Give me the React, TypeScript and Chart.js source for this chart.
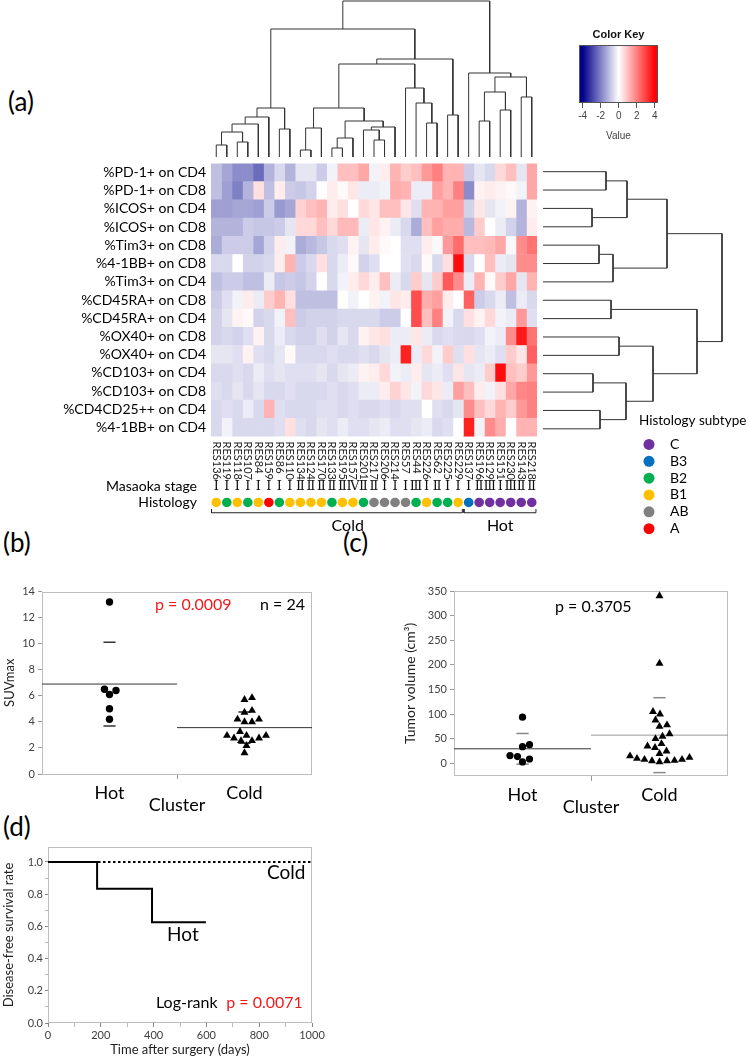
import React, { useEffect, useRef } from "react";
import { Chart, registerables } from "chart.js";

Chart.register(...registerables);

const SANS = "Lato, 'Open Sans', sans-serif";
const KEYFONT = "'Liberation Sans', Arial, sans-serif";
const ROMAN = "'DejaVu Serif', 'Noto Sans CJK JP', serif";
const AXIS_GRAY = "#404040";
const FRAME_GRAY = "#BDBDBD";
const RED = "#EE1C1C";

// ================= (a) heatmap data =================
const sampleIds = ["RES136", "RES119", "RES118", "RES107", "RES84", "RES159", "RES86", "RES110", "RES134", "RES124", "RES170", "RES133", "RES195", "RES157", "RES201", "RES217", "RES206", "RES214", "RES57", "RES44", "RES226", "RES62", "RES225", "RES229", "RES137", "RES196", "RES129", "RES151", "RES230", "RES143", "RES218"];
const markerLabels = ["%PD-1+ on CD4", "%PD-1+ on CD8", "%ICOS+ on CD4", "%ICOS+ on CD8", "%Tim3+ on CD8", "%4-1BB+ on CD8", "%Tim3+ on CD4", "%CD45RA+ on CD8", "%CD45RA+ on CD4", "%OX40+ on CD8", "%OX40+ on CD4", "%CD103+ on CD4", "%CD103+ on CD8", "%CD4CD25++ on CD4", "%4-1BB+ on CD4"];

const pd1CD4 = [-1.0, -1.4, -1.8, -1.8, -2.3, -1.2, -0.6, -1.2, -0.4, -0.4, -0.8, -0.2, 1.0, 1.0, 1.4, -0.2, 0.3, 1.2, 0.8, 1.0, 1.6, 2.0, 1.2, 1.2, -0.8, -0.4, -0.6, 0.6, 1.0, -0.4, 1.4];
const pd1CD8 = [-1.0, -1.5, -2.0, -1.2, 0.5, -1.0, 0.3, -0.8, -0.9, -0.7, 0.0, 0.3, 0.1, 0.4, -0.3, -0.3, -0.2, 1.3, 1.2, -0.3, -0.3, 1.5, 1.2, 2.0, -1.8, 0.2, 0.3, 0.2, 0.1, -0.2, 1.4];
const icosCD4 = [-1.5, -1.5, -1.4, -1.4, -1.5, -0.8, -1.6, -1.4, 0.7, 1.0, 1.2, 0.3, 0.5, 0.0, 0.6, 0.4, 1.0, 1.0, 0.4, -0.5, 1.2, 1.2, 1.5, 1.5, -0.7, 0.4, -0.4, -0.2, 0.2, -1.2, 0.2];
const icosCD8 = [-1.2, -1.2, -1.2, -0.8, -0.9, -0.9, -0.8, -0.4, 0.6, 0.6, 1.0, 0.6, 1.1, 1.1, -0.3, 0.4, 0.2, -0.3, -0.6, -1.3, 1.0, 1.5, 1.3, 1.3, -1.1, 0.8, 0.0, -0.3, -0.7, -1.2, 0.3];
const tim3CD8 = [-1.3, -0.8, -0.8, -0.8, -1.4, -0.7, 0.3, -0.2, -1.3, -1.1, -0.9, -0.6, -0.5, 0.2, -0.4, 0.3, 0.1, 0.0, -0.5, -0.5, 0.3, -0.1, 1.6, 2.3, 1.0, 1.0, 1.1, 1.4, -0.1, 1.8, 2.2];
const bb41CD8 = [-0.6, -0.6, 0.0, -0.7, -0.7, -0.6, 0.3, 1.2, -0.8, -0.6, 0.5, -0.6, -0.3, 0.1, -0.7, -0.5, 0.0, 0.0, -0.5, -0.6, 0.1, -0.6, 0.5, 3.8, -0.6, 0.0, 1.0, -0.3, -0.4, 1.8, 1.8];
const tim3CD4 = [-1.0, -0.8, -0.8, -1.0, -1.0, -0.3, -0.9, -0.8, -0.9, -0.7, 0.0, -0.6, -0.2, 0.3, 0.6, 0.3, 1.0, -0.3, -0.6, 0.8, -0.4, 0.8, 2.6, 1.8, -0.3, 1.2, 0.1, 0.8, 1.4, -0.4, 1.2];
const cd45raCD8 = [-0.8, -0.5, -0.2, 0.3, -0.3, 0.8, 1.2, 0.5, -1.0, -1.0, -1.0, -1.0, 0.0, -0.2, 0.0, 0.2, -0.2, 0.4, 0.3, 2.8, 1.3, 1.5, 0.3, 0.0, 2.5, -0.8, -0.6, -0.3, -1.0, -0.3, -0.6];
const cd45raCD4 = [-0.7, -0.4, 0.2, 0.1, -0.7, -0.6, -0.2, 1.0, -0.8, -0.7, -0.7, -0.7, -0.6, -0.6, -0.6, -0.6, -0.8, -0.8, 0.0, 2.8, 1.0, 2.0, -0.2, -0.6, 0.5, 0.2, 0.6, -0.2, -0.3, 1.6, -0.5];
const ox40CD8 = [-0.7, -0.6, -0.7, -0.5, 0.2, -0.6, -0.3, -0.6, -0.7, -0.7, -0.5, -0.7, -0.4, -0.6, 0.2, 0.4, 0.5, -0.3, -0.3, 0.4, -0.3, -0.6, -0.5, -0.6, -0.6, -0.5, -0.2, -0.3, 1.8, 3.6, 2.2];
const ox40CD4 = [-0.4, -0.4, -0.5, 0.2, -0.5, -0.6, -0.4, 0.1, -0.6, -0.6, -0.6, -0.5, -0.6, -0.6, -0.5, -0.6, -0.4, -0.3, 3.5, -0.3, 0.6, -0.2, 0.8, -0.5, 0.5, -0.4, -0.3, -0.5, 0.8, 0.4, 2.5];
const cd103CD4 = [-0.6, -0.6, -0.5, -0.6, -0.3, -0.5, -0.4, -0.5, -0.5, -0.5, -0.4, -0.6, -0.4, -0.3, 0.2, 0.3, 0.6, -0.2, -0.3, 0.3, -0.4, -0.3, -0.5, 0.4, -0.4, -0.3, 0.8, 3.8, 1.0, 0.8, 1.6];
const cd103CD8 = [-0.5, -0.6, -0.4, -0.6, -0.4, -0.6, -0.6, -0.5, -0.6, -0.6, -0.6, -0.5, -0.6, -0.5, -0.3, -0.3, 0.3, 0.7, 0.4, -0.2, 0.6, 0.4, -0.3, 1.5, 1.0, 0.3, -0.2, 0.5, 1.4, 1.9, 2.0];
const cd25CD4 = [-0.6, -0.5, -0.6, -0.3, -0.6, 1.2, -0.5, -0.6, -0.6, -0.6, -0.5, -0.5, -0.6, -0.5, -0.6, -0.6, -0.5, -0.6, -0.5, -0.5, 0.0, -0.5, -0.6, -0.4, 1.8, 1.0, 0.6, 1.2, 0.8, 1.6, 2.0];
const bb41CD4 = [-0.6, -0.2, -0.6, -0.6, -0.6, -0.6, -0.5, 0.5, -0.5, -0.6, -0.4, -0.5, -0.3, -0.5, -0.5, -0.4, -0.3, -0.5, -0.5, -0.4, -0.3, -0.6, -0.5, 0.0, 3.5, -0.2, 1.8, 1.3, 0.0, 1.2, 1.2];
const heatRows = [pd1CD4, pd1CD8, icosCD4, icosCD8, tim3CD8, bb41CD8, tim3CD4, cd45raCD8, cd45raCD4, ox40CD8, ox40CD4, cd103CD4, cd103CD8, cd25CD4, bb41CD4];

const masaokaStage = ["Ⅰ", "Ⅰ", "Ⅰ", "Ⅰ", "Ⅰ", "Ⅰ", "Ⅰ", "Ⅰ", "Ⅱ", "Ⅱ", "Ⅱ", "Ⅱ", "Ⅱ", "Ⅳ", "Ⅱ", "Ⅱ", "Ⅰ", "Ⅰ", "Ⅰ", "Ⅲ", "Ⅰ", "Ⅱ", "Ⅰ", "Ⅰ", "Ⅰ", "Ⅱ", "Ⅲ", "Ⅰ", "Ⅲ", "Ⅱ", "Ⅱ"];
const histology = ["B1", "B2", "B1", "B2", "B1", "A", "B2", "B1", "B1", "B1", "B1", "B2", "B1", "B1", "B2", "AB", "AB", "AB", "AB", "B2", "B1", "B2", "B2", "B1", "B3", "C", "C", "C", "C", "C", "C"];
const clusterNames = ["Cold", "Hot"];
const clusterSizes = [24, 7];
const histologyTypes = ["C", "B3", "B2", "B1", "AB", "A"];
const histologyColors = ["#7030A0", "#0070C0", "#00B050", "#FFC000", "#808080", "#FF0000"];

// dendrograms (R hclust style: negative = leaf position, positive = merge number)
const colMerge: [number, number][] = [
  [-1, -2], [-3, -4], [1, 2], [3, -5], [4, -6], [-7, -8], [5, 6],
  [-9, -10], [8, -11], [-12, -13], [10, -14], [-16, -17], [-15, 12], [13, -18], [11, 14], [9, 15],
  [-21, -22], [-20, 17], [-19, 18], [16, 19], [-23, -24], [20, 21], [7, 22],
  [-26, -27], [-28, -29], [24, 25], [-30, -31], [26, 27], [-25, 28], [23, 29],
];
const colHeight = [1.2, 1.5, 2.5, 3.3, 4.0, 2.8, 4.9, 0.7, 2.9, 0.9, 1.9, 1.7, 2.7, 3.0, 3.6, 4.9, 3.4, 5.4, 6.9, 9.3, 4.2, 9.8, 12.8, 3.6, 4.7, 6.5, 6.0, 8.0, 8.4, 15.6];
const rowMerge: [number, number][] = [[-1, -2], [-3, -4], [1, 2], [-5, -6], [4, -7], [3, 5], [-8, -9], [-10, -11], [-12, -13], [-14, -15], [9, 10], [8, 11], [7, 12], [6, 13]];
const rowHeight = [6.3, 4.9, 8.4, 5.6, 7.0, 12.4, 6.8, 7.6, 5.0, 5.7, 8.3, 11.0, 15.4, 17.9];
const colorKeyTicks = [-4, -2, 0, 2, 4];

// ================= (b) SUVmax =================
const clusterAxis = ["Hot", "Cold"];
const suvHot = [13.2, 6.5, 6.4, 6.1, 5.0, 4.2];
const suvCold = [5.85, 5.7, 4.87, 4.72, 4.2, 4.2, 4.0, 4.0, 3.25, 2.95, 2.95, 2.95, 2.75, 2.75, 2.55, 2.55, 2.17, 1.62];
const suvTicks = [0, 2, 4, 6, 8, 10, 12, 14];

// ================= (c) tumor volume =================
const volHot = [94, 38, 34, 16, 14, 9, 3];
const volCold = [340, 203, 105, 100, 88, 78, 75, 60, 55, 50, 40, 35, 32, 25, 20, 15, 12, 10, 8, 8, 6, 5, 5, 3];
const volTicks = [0, 50, 100, 150, 200, 250, 300, 350];

// ================= (d) disease-free survival =================
const hotDays = [0, 186, 394, 598];
const hotSurv = [1.0, 0.833, 0.625, 0.625];
const coldDays = [0, 1000];
const coldSurv = [1.0, 1.0];
const dayTicks = [0, 100, 200, 300, 400, 500, 600, 700, 800, 900, 1000];
const survTicks = [0, 0.1, 0.2, 0.3, 0.4, 0.5, 0.6, 0.7, 0.8, 0.9, 1.0];

// ================= helpers =================
function heatColor(v: number) {
  const t = Math.max(-1, Math.min(1, v / 4));
  if (t < 0) {
    const a = -t;
    const r = Math.round(255 * (1 - a));
    const b = Math.round(255 - a * (255 - 139));
    return `rgb(${r},${r},${b})`;
  }
  const g = Math.round(255 * (1 - t));
  return `rgb(255,${g},${g})`;
}

function dendroPaths(merge: [number, number][], heights: number[]) {
  const pos: number[] = [];
  const paths: { p: number; h: number }[][] = [];
  merge.forEach(([a, b], i) => {
    const ca = a < 0 ? { p: -a - 1, h: 0 } : { p: pos[a - 1], h: heights[a - 1] };
    const cb = b < 0 ? { p: -b - 1, h: 0 } : { p: pos[b - 1], h: heights[b - 1] };
    pos[i] = (ca.p + cb.p) / 2;
    const h = heights[i];
    paths.push([ca, { p: ca.p, h }, { p: cb.p, h }, cb]);
  });
  return paths;
}

function swarmOffsets(values: number[], pxPerY: number, pxPerX: number, diam: number) {
  const idx = values.map((_, i) => i).sort((a, b) => values[a] - values[b]);
  const placed: { x: number; y: number }[] = [];
  const out = values.map(() => 0);
  for (const i of idx) {
    const y = values[i] * pxPerY;
    let chosen = 0;
    for (let k = 0; k < 400; k++) {
      const cands = k === 0 ? [0] : [k * 0.5, -k * 0.5];
      const ok = cands.find((c) => placed.every((p) => Math.hypot(p.x - c, p.y - y) >= diam));
      if (ok !== undefined) {
        chosen = ok;
        break;
      }
    }
    placed.push({ x: chosen, y });
    out[i] = chosen / pxPerX;
  }
  return out;
}

const mean = (a: number[]) => a.reduce((s, v) => s + v, 0) / a.length;
const sdev = (a: number[]) => {
  const m = mean(a);
  return Math.sqrt(a.reduce((s, v) => s + (v - m) * (v - m), 0) / (a.length - 1));
};

const baseOptions = (padding: any) => ({
  responsive: false,
  animation: false as const,
  events: [] as any[],
  layout: { padding },
  plugins: { legend: { display: false }, tooltip: { enabled: false }, title: { display: false } },
});

const framePlugin = {
  id: "frame",
  beforeDatasetsDraw(chart: any) {
    const { ctx, chartArea: a } = chart;
    ctx.save();
    ctx.strokeStyle = FRAME_GRAY;
    ctx.lineWidth = 1;
    ctx.strokeRect(Math.round(a.left) + 0.5, Math.round(a.top) + 0.5, Math.round(a.right - a.left) - 1, Math.round(a.bottom - a.top) - 1);
    ctx.restore();
  },
};

type Note = { text: string; x: number; y: number; color: string; size: number; align: CanvasTextAlign };
const notesPlugin = (notes: Note[]) => ({
  id: "notes",
  afterDraw(chart: any) {
    const { ctx, scales } = chart;
    ctx.save();
    ctx.textBaseline = "middle";
    notes.forEach((n) => {
      ctx.font = `${n.size}px ${SANS}`;
      ctx.fillStyle = n.color;
      ctx.textAlign = n.align;
      ctx.fillText(n.text, scales.x.getPixelForValue(n.x), scales.y.getPixelForValue(n.y));
    });
    ctx.restore();
  },
});

// ================= chart configs =================
function heatmapConfig() {
  return {
    type: "bar",
    data: {
      labels: markerLabels,
      datasets: sampleIds.map((id, c) => ({
        label: id,
        data: heatRows.map(() => [c - 0.5, c + 0.5]),
        backgroundColor: heatRows.map((row) => heatColor(row[c])),
        borderWidth: 0,
        grouped: false,
        barPercentage: 1,
        categoryPercentage: 1,
      })),
    },
    options: {
      ...baseOptions({ left: 11, right: 23, top: 12.5, bottom: 12 }),
      indexAxis: "y",
      scales: {
        x: { type: "linear", min: -0.5, max: 30.5, display: false },
        y: {
          type: "category",
          grid: { display: false, drawTicks: false },
          border: { display: false },
          ticks: { autoSkip: false, padding: 5, color: "#000", font: { family: SANS, size: 14 } },
          afterFit: (s: any) => { s.width = 200; },
        },
      },
    },
  };
}

function topDendroConfig() {
  return {
    type: "scatter",
    data: {
      datasets: dendroPaths(colMerge, colHeight).map((path) => ({
        data: path.map((q) => ({ x: q.p, y: q.h })),
        showLine: true, pointRadius: 0, borderColor: "#333", borderWidth: 1, clip: false,
      })),
    },
    options: {
      ...baseOptions({ left: 11, right: 11, top: 1, bottom: 3 }),
      scales: {
        x: { type: "linear", min: -0.5, max: 30.5, display: false },
        y: { type: "linear", min: 0, max: 15.6, display: false },
      },
    },
  };
}

function rowDendroConfig() {
  return {
    type: "scatter",
    data: {
      datasets: dendroPaths(rowMerge, rowHeight).map((path) => ({
        data: path.map((q) => ({ x: q.h, y: q.p })),
        showLine: true, pointRadius: 0, borderColor: "#333", borderWidth: 1, clip: false,
      })),
    },
    options: {
      ...baseOptions({ left: 5, right: 26, top: 12.5, bottom: 12 }),
      scales: {
        x: { type: "linear", min: 0, max: 17.9, display: false },
        y: { type: "linear", min: -0.5, max: 14.5, reverse: true, display: false },
      },
    },
  };
}

function colorKeyConfig() {
  const keyPlugin = {
    id: "keyGradient",
    beforeDatasetsDraw(chart: any) {
      const { ctx, chartArea: a, scales } = chart;
      const g = ctx.createLinearGradient(a.left, 0, a.right, 0);
      for (let s = 0; s <= 40; s++) {
        const px = a.left + (s / 40) * (a.right - a.left);
        g.addColorStop(s / 40, heatColor(scales.x.getValueForPixel(px)));
      }
      ctx.save();
      ctx.fillStyle = g;
      ctx.fillRect(a.left, a.top, a.right - a.left, a.bottom - a.top);
      ctx.strokeStyle = "#555";
      ctx.lineWidth = 1;
      ctx.strokeRect(a.left + 0.5, a.top + 0.5, a.right - a.left - 1, a.bottom - a.top - 1);
      ctx.font = `bold 11px ${KEYFONT}`;
      ctx.fillStyle = "#111";
      ctx.textAlign = "center";
      ctx.textBaseline = "middle";
      ctx.fillText("Color Key", (a.left + a.right) / 2, a.top - 10);
      ctx.restore();
    },
  };
  return {
    type: "scatter",
    data: { datasets: [] },
    options: {
      ...baseOptions({ left: 19, right: 22, top: 25, bottom: 3 }),
      scales: {
        x: {
          type: "linear", min: -4.4, max: 4.35,
          afterBuildTicks: (s: any) => { s.ticks = colorKeyTicks.map((v) => ({ value: v })); },
          ticks: { font: { family: KEYFONT, size: 10 }, color: "#444", padding: 2, autoSkip: false },
          grid: { drawOnChartArea: false, tickLength: 5, color: "#555" },
          border: { display: false },
          title: { display: true, text: "Value", font: { family: KEYFONT, size: 10 }, color: "#444", padding: { top: 2, bottom: 0 } },
          afterFit: (s: any) => { s.height = 39; },
        },
        y: { type: "linear", min: 0, max: 1, display: false },
      },
    },
    plugins: [keyPlugin],
  };
}

const ANN = { labels: 34, stage: 82, histo: 99, bracket: 110, tip: 106, cluster: 124, legendTitle: 12, legendFirst: 37, legendStep: 18 };

function annotationConfig() {
  const starts = clusterSizes.map((_, i) => clusterSizes.slice(0, i).reduce((s, v) => s + v, 0));
  const brackets = clusterSizes.map((n, i) => {
    const s = starts[i] - 0.45;
    const e = starts[i] + n - 1 + 0.4;
    return {
      data: [{ x: s, y: ANN.tip }, { x: s, y: ANN.bracket }, { x: e, y: ANN.bracket }, { x: e, y: ANN.tip }],
      showLine: true, pointRadius: 0, borderColor: "#222", borderWidth: 1, clip: false,
    };
  });
  const textPlugin = {
    id: "annText",
    afterDraw(chart: any) {
      const { ctx, scales, chartArea } = chart;
      const xs = scales.x, ys = scales.y;
      ctx.save();
      ctx.font = `11px ${SANS}`;
      ctx.fillStyle = "#222";
      ctx.textAlign = "left";
      ctx.textBaseline = "middle";
      sampleIds.forEach((id, i) => {
        ctx.save();
        ctx.translate(xs.getPixelForValue(i), ys.getPixelForValue(ANN.labels));
        ctx.rotate(Math.PI / 2);
        ctx.fillText(id, 0, 0);
        ctx.restore();
      });
      ctx.font = `13px ${ROMAN}`;
      ctx.fillStyle = "#111";
      ctx.textAlign = "center";
      masaokaStage.forEach((s, i) => ctx.fillText(s, xs.getPixelForValue(i), ys.getPixelForValue(ANN.stage)));
      ctx.font = `14px ${SANS}`;
      ctx.textAlign = "right";
      ctx.fillStyle = "#000";
      ctx.fillText("Masaoka stage", chartArea.left - 14, ys.getPixelForValue(ANN.stage));
      ctx.fillText("Histology", chartArea.left - 14, ys.getPixelForValue(ANN.histo));
      ctx.font = `16px ${SANS}`;
      ctx.textAlign = "center";
      clusterNames.forEach((name, i) => {
        const mid = starts[i] + (clusterSizes[i] - 1) / 2 + (i === 0 ? 1.0 : 0);
        ctx.fillText(name, xs.getPixelForValue(mid), ys.getPixelForValue(ANN.cluster));
      });
      ctx.textAlign = "left";
      ctx.font = `13.5px ${SANS}`;
      ctx.fillText("Histology subtype", 639, ys.getPixelForValue(ANN.legendTitle));
      ctx.font = `14px ${SANS}`;
      histologyTypes.forEach((t, k) => {
        const y = ys.getPixelForValue(ANN.legendFirst + k * ANN.legendStep);
        ctx.beginPath();
        ctx.fillStyle = histologyColors[k];
        ctx.arc(649, y, 5.5, 0, Math.PI * 2);
        ctx.fill();
        ctx.fillStyle = "#000";
        ctx.fillText(t, 670, y);
      });
      ctx.restore();
    },
  };
  return {
    type: "scatter",
    data: {
      datasets: [
        {
          data: histology.map((_, i) => ({ x: i, y: ANN.histo })),
          pointRadius: 4.8,
          pointBorderWidth: 0,
          pointBackgroundColor: histology.map((h) => histologyColors[histologyTypes.indexOf(h)]),
          clip: false,
        },
        ...brackets,
      ],
    },
    options: {
      ...baseOptions({ left: 211, right: 211, top: 0, bottom: 0 }),
      scales: {
        x: { type: "linear", min: -0.5, max: 30.5, display: false },
        y: { type: "linear", min: 0, max: 150, reverse: true, display: false },
      },
    },
    plugins: [textPlugin],
  };
}

function groupConfig(o: {
  hot: number[]; cold: number[]; yMin: number; yMax: number; yTicks: number[]; yTitle: string; yTitleSize: number;
  pxPerY: number; pxPerX: number; hotR: number; coldR: number; coldMeanColor: string; sdColor: string;
  notes: Note[]; padding: any; yAxisWidth: number;
}) {
  const hotOff = swarmOffsets(o.hot, o.pxPerY, o.pxPerX, 7.2);
  const coldOff = swarmOffsets(o.cold, o.pxPerY, o.pxPerX, 7.4);
  const mH = mean(o.hot), sH = sdev(o.hot), mC = mean(o.cold), sC = sdev(o.cold);
  const seg = (x0: number, x1: number, y: number, color: string, w: number) => ({
    data: [{ x: x0, y }, { x: x1, y }], showLine: true, pointRadius: 0, borderColor: color, borderWidth: w,
  });
  return {
    type: "scatter",
    data: {
      datasets: [
        { data: o.hot.map((v, i) => ({ x: 0 + hotOff[i], y: v })), pointStyle: "circle", pointRadius: o.hotR, pointBackgroundColor: "#000", pointBorderWidth: 0 },
        { data: o.cold.map((v, i) => ({ x: 1 + coldOff[i], y: v })), pointStyle: "triangle", pointRadius: o.coldR, pointBackgroundColor: "#000", pointBorderWidth: 0 },
        seg(-0.5, 0.5, mH, "#333", 1),
        seg(0.5, 1.5, mC, o.coldMeanColor, 1),
        seg(-0.045, 0.045, mH + sH, o.sdColor, 1.5),
        seg(-0.045, 0.045, mH - sH, o.sdColor, 1.5),
        seg(0.955, 1.045, mC + sC, o.sdColor, 1.5),
        seg(0.955, 1.045, mC - sC, o.sdColor, 1.5),
      ],
    },
    options: {
      ...baseOptions(o.padding),
      scales: {
        x: {
          type: "linear", min: -0.5, max: 1.5,
          afterBuildTicks: (s: any) => { s.ticks = [{ value: 0 }, { value: 0.5 }, { value: 1 }]; },
          ticks: {
            autoSkip: false, maxRotation: 0, padding: 3, color: "#000", font: { family: SANS, size: 18 },
            callback: (v: number) => (v === 0 ? clusterAxis[0] : v === 1 ? clusterAxis[1] : ""),
          },
          grid: { drawOnChartArea: false, tickLength: 5, tickColor: (c: any) => (c.tick && c.tick.value === 0.5 ? "#999" : "rgba(0,0,0,0)") },
          border: { display: false },
          title: { display: true, text: "Cluster", color: "#000", font: { family: SANS, size: 18 }, padding: { top: 0, bottom: 0 } },
          afterFit: (s: any) => { s.height = 42; },
        },
        y: {
          type: "linear", min: o.yMin, max: o.yMax,
          afterBuildTicks: (s: any) => { s.ticks = o.yTicks.map((v) => ({ value: v })); },
          ticks: { autoSkip: false, padding: 3, color: AXIS_GRAY, font: { family: SANS, size: 11 } },
          grid: { drawOnChartArea: false, tickLength: 4, tickColor: "#999" },
          border: { display: false },
          title: { display: true, text: o.yTitle, color: "#222", font: { family: SANS, size: o.yTitleSize }, padding: { top: 2, bottom: 0 } },
          afterFit: (s: any) => { s.width = o.yAxisWidth; },
        },
      },
    },
    plugins: [framePlugin, notesPlugin(o.notes)],
  };
}

function suvConfig() {
  return groupConfig({
    hot: suvHot, cold: suvCold, yMin: 0, yMax: 14, yTicks: suvTicks, yTitle: "SUVmax", yTitleSize: 13,
    pxPerY: 182.5 / 14, pxPerX: 135, hotR: 3.7, coldR: 4.6, coldMeanColor: "#333", sdColor: "#333",
    notes: [
      { text: "p = 0.0009", x: 0.337, y: 13.0, color: RED, size: 16, align: "left" },
      { text: "n = 24", x: 1.115, y: 13.0, color: "#000", size: 16, align: "left" },
    ],
    padding: { left: 0, right: 18, top: 31.5, bottom: 6 }, yAxisWidth: 42,
  });
}

function volConfig() {
  return groupConfig({
    hot: volHot, cold: volCold, yMin: -25.5, yMax: 350, yTicks: volTicks, yTitle: "Tumor volume (cm³)", yTitleSize: 14,
    pxPerY: 185 / 375.5, pxPerX: 137, hotR: 3.6, coldR: 4.6, coldMeanColor: "#999", sdColor: "#888",
    notes: [{ text: "p = 0.3705", x: 0.237, y: 317, color: "#000", size: 16, align: "left" }],
    padding: { left: 0, right: 20, top: 31, bottom: 4 }, yAxisWidth: 54,
  });
}

function kmConfig() {
  return {
    type: "line",
    data: {
      datasets: [
        { label: "Hot", data: hotDays.map((d, i) => ({ x: d, y: hotSurv[i] })), stepped: "before", borderColor: "#000", borderWidth: 2, pointRadius: 0, fill: false, clip: false },
        { label: "Cold", data: coldDays.map((d, i) => ({ x: d, y: coldSurv[i] })), borderDash: [2.5, 2.5], borderColor: "#000", borderWidth: 2, pointRadius: 0, fill: false, clip: false },
      ],
    },
    options: {
      ...baseOptions({ left: 0, right: 18, top: 9, bottom: 1 }),
      scales: {
        x: {
          type: "linear", min: 0, max: 1000,
          afterBuildTicks: (s: any) => { s.ticks = dayTicks.map((v) => ({ value: v })); },
          ticks: { autoSkip: false, maxRotation: 0, padding: 2, color: AXIS_GRAY, font: { family: SANS, size: 11 }, callback: (v: number) => (v % 200 === 0 ? String(v) : "") },
          grid: { drawOnChartArea: false, tickLength: 4, tickColor: (c: any) => (c.tick && c.tick.value % 200 === 0 ? "#888" : "#BBB") },
          border: { display: false },
          title: { display: true, text: "Time after surgery (days)", color: "#222", font: { family: SANS, size: 13 }, padding: { top: 0, bottom: 0 } },
          afterFit: (s: any) => { s.height = 35; },
        },
        y: {
          type: "linear", min: 0, max: 1.093,
          afterBuildTicks: (s: any) => { s.ticks = survTicks.map((v) => ({ value: v })); },
          ticks: { autoSkip: false, padding: 2, color: AXIS_GRAY, font: { family: SANS, size: 11 }, callback: (v: number) => (Math.round(v * 10) % 2 === 0 ? v.toFixed(1) : "") },
          grid: { drawOnChartArea: false, tickLength: 3, tickColor: (c: any) => (c.tick && Math.round(c.tick.value * 10) % 2 === 0 ? "#888" : "#BBB") },
          border: { display: false },
          title: { display: true, text: "Disease-free survival rate", color: "#222", font: { family: SANS, size: 13 }, padding: { top: 1, bottom: 0 } },
          afterFit: (s: any) => { s.width = 48; },
        },
      },
    },
    plugins: [
      framePlugin,
      notesPlugin([
        { text: "Cold", x: 902, y: 0.932, color: "#000", size: 19, align: "center" },
        { text: "Hot", x: 511, y: 0.547, color: "#000", size: 19, align: "center" },
        { text: "Log-rank", x: 409, y: 0.126, color: "#000", size: 16, align: "left" },
        { text: "p = 0.0071", x: 675, y: 0.126, color: RED, size: 16, align: "left" },
      ]),
    ],
  };
}

// ================= components =================
function ChartCanvas({ left, top, width, height, make }: { left: number; top: number; width: number; height: number; make: () => any }) {
  const ref = useRef<HTMLCanvasElement | null>(null);
  useEffect(() => {
    if (!ref.current) return;
    const chart = new Chart(ref.current, make());
    return () => chart.destroy();
  }, []);
  return <canvas ref={ref} width={width} height={height} style={{ position: "absolute", left, top, width, height }} />;
}

function PanelLabel({ text, left, top }: { text: string; left: number; top: number }) {
  return (
    <div style={{ position: "absolute", left, top, fontFamily: SANS, fontSize: 26, lineHeight: "26px", color: "#000" }}>{text}</div>
  );
}

export default function App() {
  return (
    <div style={{ position: "absolute", left: 0, top: 0, width: 748, height: 1059, background: "#fff", overflow: "hidden" }}>
      <PanelLabel text="(a)" left={8} top={88} />
      <PanelLabel text="(b)" left={3} top={529} />
      <PanelLabel text="(c)" left={343} top={529} />
      <PanelLabel text="(d)" left={3} top={813} />
      <ChartCanvas left={200} top={0} width={348} height={160} make={topDendroConfig} />
      <ChartCanvas left={560} top={20} width={120} height={125} make={colorKeyConfig} />
      <ChartCanvas left={0} top={150} width={560} height={300} make={heatmapConfig} />
      <ChartCanvas left={538} top={150} width={210} height={300} make={rowDendroConfig} />
      <ChartCanvas left={0} top={405} width={748} height={150} make={annotationConfig} />
      <ChartCanvas left={0} top={560} width={330} height={262} make={suvConfig} />
      <ChartCanvas left={400} top={560} width={348} height={262} make={volConfig} />
      <ChartCanvas left={0} top={838} width={330} height={221} make={kmConfig} />
    </div>
  );
}
